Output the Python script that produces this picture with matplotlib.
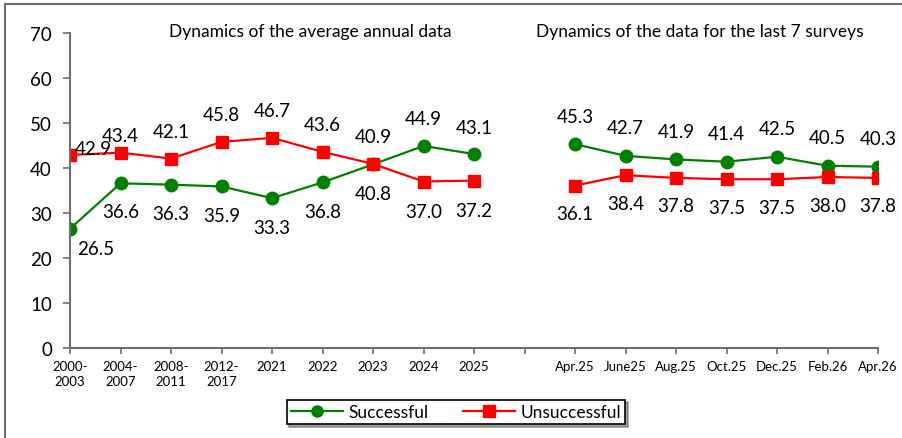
import matplotlib.pyplot as plt
from matplotlib.lines import Line2D

plt.rcParams['font.family'] = ['Lato', 'DejaVu Sans']

# category labels: 9 annual periods, one empty slot, 7 surveys
categories = ["2000-\n2003", "2004-\n2007", "2008-\n2011", "2012-\n2017", "2021", "2022",
              "2023", "2024", "2025", "", "Apr.25", "June25", "Aug.25", "Oct.25",
              "Dec.25", "Feb.26", "Apr.26"]

successful_annual = [26.5, 36.6, 36.3, 35.9, 33.3, 36.8, 40.8, 44.9, 43.1]
unsuccessful_annual = [42.9, 43.4, 42.1, 45.8, 46.7, 43.6, 40.9, 37.0, 37.2]
successful_surveys = [45.3, 42.7, 41.9, 41.4, 42.5, 40.5, 40.3]
unsuccessful_surveys = [36.1, 38.4, 37.8, 37.5, 37.5, 38.0, 37.8]

green = "#008000"
red = "#ff0000"
axis_col = "#6e6e6e"

fig = plt.figure(figsize=(9.02, 4.39), dpi=100)
ax = fig.add_axes([70 / 902, 90 / 439, 808 / 902, 315 / 439])

x_annual = list(range(9))
x_surveys = list(range(10, 17))

line_kw = dict(lw=1.6, ms=9)
ax.plot(x_annual, successful_annual, color=green, marker="o", **line_kw)
ax.plot(x_annual, unsuccessful_annual, color=red, marker="s", **line_kw)
ax.plot(x_surveys, successful_surveys, color=green, marker="o", **line_kw)
ax.plot(x_surveys, unsuccessful_surveys, color=red, marker="s", **line_kw)


def label(x, y, dx, dy):
    ax.annotate(f"{y:.1f}", xy=(x, y), xytext=(dx, dy), textcoords="offset pixels",
                ha="center", va="center", fontsize=13.5)


# annual labels: higher series above, lower below (manual placement like the source)
for i, (s, u) in enumerate(zip(successful_annual, unsuccessful_annual)):
    if i == 0:
        label(i, u, 23, 6)
        label(i, s, 26, -20)
    elif i == 1:
        label(i, u, 0, 17)
        label(i, s, 0, -28)
    elif u >= s:
        label(i, u, 0, 27)
        label(i, s, 0, -29)
    else:
        label(i, s, 0, 27)
        label(i, u, 0, -30)

for x, s, u in zip(x_surveys, successful_surveys, unsuccessful_surveys):
    label(x, s, 0, 28)
    label(x, u, 0, -28)

ax.set_xlim(0, 16)
ax.set_ylim(0, 70)
ax.set_yticks(range(0, 71, 10))
ax.set_xticks(range(len(categories)))
ax.set_xticklabels(categories, fontsize=9.5, linespacing=1.25)
ax.tick_params(axis="y", labelsize=13.5, length=5, width=1.2, color=axis_col, pad=8)
ax.tick_params(axis="x", length=4, width=1.2, color=axis_col, pad=5)

for side in ["top", "right"]:
    ax.spines[side].set_visible(False)
for side in ["left", "bottom"]:
    ax.spines[side].set_color(axis_col)
    ax.spines[side].set_linewidth(1.5)

fig.text(310 / 902, 1 - 32 / 439, "Dynamics of the average annual data", ha="center", va="center", fontsize=12.5)
fig.text(700 / 902, 1 - 32 / 439, "Dynamics of the data for the last 7 surveys", ha="center", va="center", fontsize=12.5)

handles = [Line2D([], [], color=green, marker="o", lw=1.6, ms=8),
           Line2D([], [], color=red, marker="s", lw=1.6, ms=8)]
leg = fig.legend(handles, ["Successful", "Unsuccessful"], loc="center", ncol=2,
                 bbox_to_anchor=(456 / 902, 1 - 413 / 439), fontsize=12.5,
                 frameon=True, fancybox=False, shadow=True, edgecolor="black",
                 handlelength=3.0, columnspacing=2.0, borderpad=0.25, handletextpad=0.3,
                 borderaxespad=0.0)
leg.get_frame().set_linewidth(1.2)

# outer chart border (top and left visible in source)
fig.add_artist(Line2D([5 / 902, 5 / 902], [0, 1 - 5 / 439], color="#6e6e6e", lw=1.5, transform=fig.transFigure))
fig.add_artist(Line2D([5 / 902, 1], [1 - 5 / 439, 1 - 5 / 439], color="#6e6e6e", lw=1.5, transform=fig.transFigure))

fig.savefig("out.png", dpi=100)
